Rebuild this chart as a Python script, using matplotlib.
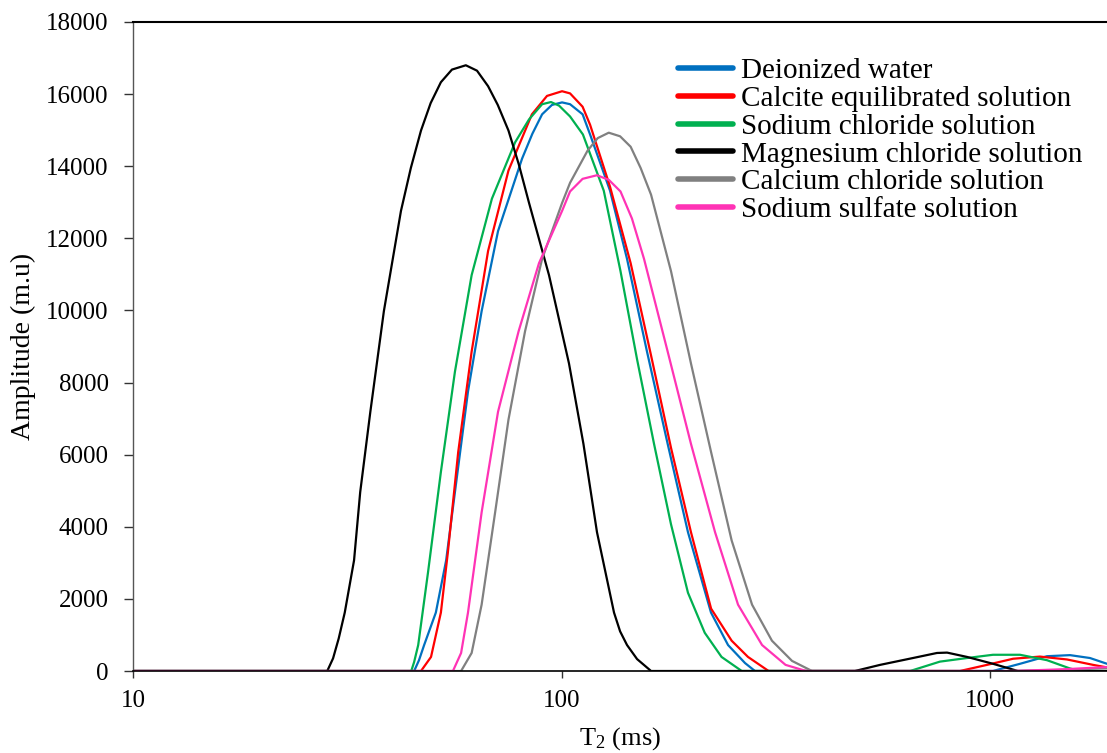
import matplotlib
matplotlib.use("Agg")
import matplotlib.pyplot as plt
from matplotlib.ticker import FixedLocator, NullLocator, FixedFormatter

plt.rcParams['font.family'] = ['Liberation Serif', 'DejaVu Serif']
plt.rcParams['mathtext.fontset'] = 'custom'
plt.rcParams['mathtext.rm'] = 'Liberation Serif'
plt.rcParams['mathtext.it'] = 'Liberation Serif:italic'

labels = ["Deionized water", "Calcite equilibrated solution", "Sodium chloride solution",
          "Magnesium chloride solution", "Calcium chloride solution", "Sodium sulfate solution"]
colors = ["#0070C0", "#FF0000", "#00B050", "#000000", "#808080", "#FF33B5"]

# Deionized water
t2_dw = [10, 45.3, 46.5, 47.8, 50.9, 53.8, 56.4, 60.5, 65.1, 71.1, 80.9, 85.5, 90.1, 95.0, 100.3, 104.7,
         112.0, 116.6, 129.8, 142.2, 158.3, 176.9, 197.3, 223.3, 244.7, 268.1, 282.8,
         1016, 1175, 1358, 1537, 1711, 1875]
amp_dw = [0, 0, 300, 720, 1620, 3070, 4960, 7750, 9980, 12200, 14210, 14900, 15440, 15700, 15770, 15720,
          15440, 14880, 13320, 11430, 8860, 6300, 3850, 1620, 720, 220, 0,
          0, 200, 410, 440, 360, 200]

# Calcite equilibrated solution
t2_ca = [10, 47.0, 49.6, 52.3, 54.3, 57.4, 61.7, 67.4, 75.2, 85.3, 92.5, 100.3, 104.7, 112.0, 116.6,
         129.8, 145.0, 161.8, 180.1, 200.5, 223.4, 249.5, 272.4, 304.3,
         851, 984, 1132, 1308, 1512, 1740, 1875]
amp_ca = [0, 0, 390, 1620, 3290, 6070, 8860, 11650, 13880, 15440, 15950, 16080, 16020, 15650, 15150,
          13430, 11310, 8750, 6190, 3850, 1730, 840, 390, 0,
          0, 170, 340, 400, 320, 170, 100]

# Sodium chloride solution
t2_na = [10, 44.6, 45.3, 46.3, 48.8, 52.3, 56.4, 61.7, 68.8, 77.9, 84.0, 90.1, 94.5, 98.7, 104.7, 112.2,
         125.5, 137.3, 150.1, 164.4, 180.1, 197.3, 215.9, 236.3, 263.4,
         651, 764, 884, 1016, 1175, 1358, 1537, 1622, 1875]
amp_na = [0, 0, 250, 720, 2730, 5520, 8300, 10980, 13100, 14660, 15300, 15720, 15780, 15680, 15380, 14880,
          13320, 11090, 8640, 6300, 4070, 2170, 1060, 390, 0,
          0, 260, 360, 450, 450, 300, 70, 0, 0]

# Magnesium chloride solution
t2_mg = [10, 28.4, 29.3, 30.2, 31.2, 32.8, 33.9, 35.8, 38.5, 42.2, 44.5, 47.0, 49.5, 52.3, 55.5, 59.8,
         63.5, 67.4, 71.0, 75.2, 79.5, 84.0, 93.5, 104.1, 112.5, 121.0, 132.6, 137.0, 142.2, 150.1, 161.8,
         484, 554, 661, 752, 794, 884, 1016, 1162, 1875]
amp_mg = [0, 0, 350, 900, 1620, 3070, 4960, 7190, 9980, 12760, 13950, 14990, 15750, 16330, 16680, 16800,
          16650, 16220, 15700, 14990, 14050, 12980, 10980, 8530, 6300, 3850, 1620, 1100, 720, 330, 0,
          0, 170, 360, 500, 510, 390, 200, 0, 0]

# Calcium chloride solution
t2_cc = [10, 58.3, 61.7, 65.1, 70.0, 75.2, 82.2, 90.1, 100.3, 104.7, 115.0, 121.5, 128.9, 137.0, 145.0,
         153.0, 161.8, 180.1, 200.5, 223.4, 249.5, 278.4, 309.8, 345.1, 384.3, 1100, 1500, 1875]
amp_cc = [0, 0, 500, 1840, 4400, 6970, 9420, 11430, 12980, 13540, 14430, 14780, 14930, 14830, 14540,
          13950, 13210, 11090, 8530, 6070, 3620, 1840, 840, 280, 0, 0, 30, 80]

# Sodium sulfate solution
t2_ss = [10, 55.8, 58.3, 60.5, 65.1, 71.1, 79.4, 88.6, 100.3, 104.7, 112.0, 121.0, 129.0, 137.3, 146.0,
         155.8, 176.9, 200.5, 228.2, 258.2, 293.8, 333.3, 372.1, 1130, 1500, 1875]
amp_ss = [0, 0, 500, 1620, 4400, 7190, 9420, 11310, 12760, 13300, 13650, 13750, 13620, 13300, 12550,
          11430, 8860, 6300, 3850, 1840, 720, 170, 0, 0, 50, 110]

series = [(t2_dw, amp_dw), (t2_ca, amp_ca), (t2_na, amp_na),
          (t2_mg, amp_mg), (t2_cc, amp_cc), (t2_ss, amp_ss)]

y_ticks = [0, 2000, 4000, 6000, 8000, 10000, 12000, 14000, 16000, 18000]
x_ticks = [10, 100, 1000]

fig = plt.figure(figsize=(11.07, 7.53), dpi=100)
ax = fig.add_axes([133/1107, 82/753, 1 - 133/1107, (671-22)/753])

for (x, y), c, lab in zip(series, colors, labels):
    ax.plot(x, y, color=c, lw=1.6, label=lab, solid_joinstyle='round', solid_capstyle='round')

ax.set_xscale('log')
ax.set_xlim(10, 1875)
ax.set_ylim(0, 18000)
ax.xaxis.set_major_locator(FixedLocator(x_ticks))
ax.xaxis.set_major_formatter(FixedFormatter([str(v) for v in x_ticks]))
ax.xaxis.set_minor_locator(NullLocator())
ax.set_yticks(y_ticks)
ax.set_yticklabels([str(v) for v in y_ticks])
ax.tick_params(axis='both', labelsize=18, direction='out', width=1, colors='#333333',
               labelcolor='black')
ax.tick_params(axis='y', length=6.5, pad=11)
ax.tick_params(axis='x', length=5, pad=9)

ax.spines['right'].set_visible(False)
ax.spines['top'].set_linewidth(1.5)
ax.spines['left'].set_linewidth(1.0)
ax.spines['left'].set_color('#555555')
ax.spines['bottom'].set_linewidth(1.2)

ax.set_ylabel("Amplitude (m.u)", fontsize=20, labelpad=7)
ax.set_xlabel(r"T$_2$ (ms)", fontsize=19, labelpad=9)

leg = ax.legend(loc='upper left', bbox_to_anchor=(545/974, 1 - 36/649), frameon=False,
                fontsize=21, handlelength=1.9, handletextpad=0.25, labelspacing=0.045,
                borderaxespad=0, borderpad=0)
for h in leg.get_lines():
    h.set_linewidth(4)

fig.savefig("out.png", dpi=100)
